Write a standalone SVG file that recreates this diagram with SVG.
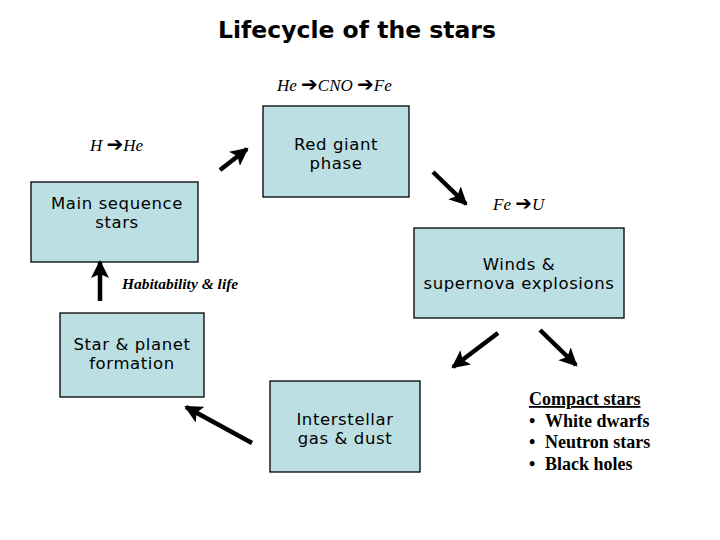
<svg xmlns="http://www.w3.org/2000/svg" width="720" height="540" viewBox="0 0 720 540">
<style>
.box{fill:#bbdfe3;stroke:#000;stroke-width:1.3}
.bt{font-family:"DejaVu Sans",Verdana,sans-serif;font-size:16.5px;letter-spacing:0.6px;fill:#000;text-anchor:middle}
.it{font-family:"Liberation Serif","Times New Roman",serif;font-style:italic;font-size:17px;fill:#000}
.ar{font-family:"DejaVu Sans",sans-serif;font-style:normal;font-weight:bold;font-size:20px}
.cs{font-family:"Liberation Serif","Times New Roman",serif;font-weight:bold;font-size:18px;fill:#000}
.ln{stroke:#000;stroke-width:4.5;fill:none;marker-end:url(#ah)}
</style>
<defs>
<marker id="ah" markerUnits="userSpaceOnUse" markerWidth="20" markerHeight="18" refX="16" refY="9" orient="auto">
<path d="M0,0 L18,9 L0,18 L4,9 Z" fill="#000"/>
</marker>
</defs>
<rect width="720" height="540" fill="#fff"/>
<text x="357" y="38" font-family="DejaVu Sans,Verdana,sans-serif" font-size="23.5" font-weight="bold" text-anchor="middle">Lifecycle of the stars</text>
<g id="redgiant"><rect class="box" x="263" y="106" width="146" height="91"/><text class="bt" x="336" y="150">Red giant</text><text class="bt" x="336" y="169">phase</text></g>
<g id="mainseq"><rect class="box" x="31" y="182" width="167" height="80"/><text class="bt" x="117" y="209">Main sequence</text><text class="bt" x="117" y="228">stars</text></g>
<g id="winds"><rect class="box" x="414" y="228" width="210" height="90"/><text class="bt" x="519" y="270">Winds &amp;</text><text class="bt" x="519" y="289">supernova explosions</text></g>
<g id="starplanet"><rect class="box" x="60" y="313" width="144" height="84"/><text class="bt" x="132" y="350">Star &amp; planet</text><text class="bt" x="132" y="369">formation</text></g>
<g id="interstellar"><rect class="box" x="270" y="381" width="150" height="91"/><text class="bt" x="345" y="425">Interstellar</text><text class="bt" x="345" y="444">gas &amp; dust</text></g>
<g id="labels">
<text class="it" x="277" y="91">He <tspan class="ar">➔</tspan>CNO <tspan class="ar">➔</tspan>Fe</text>
<text class="it" x="90" y="151">H <tspan class="ar">➔</tspan>He</text>
<text class="it" x="493" y="210">Fe <tspan class="ar">➔</tspan>U</text>
<text class="it" x="122" y="289" font-weight="bold" style="font-size:15.5px">Habitability &amp; life</text>
</g>
<g id="compact">
<text class="cs" x="529" y="405" text-decoration="underline">Compact stars</text>
<text class="cs" x="529" y="427">• <tspan x="545">White dwarfs</tspan></text>
<text class="cs" x="529" y="448">• <tspan x="545">Neutron stars</tspan></text>
<text class="cs" x="529" y="470">• <tspan x="545">Black holes</tspan></text>
</g>
<g id="connectors">
<line class="ln" x1="100" y1="301" x2="100" y2="262"/>
<line class="ln" x1="220" y1="170" x2="247" y2="149"/>
<line class="ln" x1="433" y1="172" x2="466" y2="204"/>
<line class="ln" x1="498" y1="333" x2="453" y2="367"/>
<line class="ln" x1="540" y1="330" x2="576" y2="365"/>
<line class="ln" x1="252" y1="443" x2="186" y2="407"/>
</g>
</svg>
